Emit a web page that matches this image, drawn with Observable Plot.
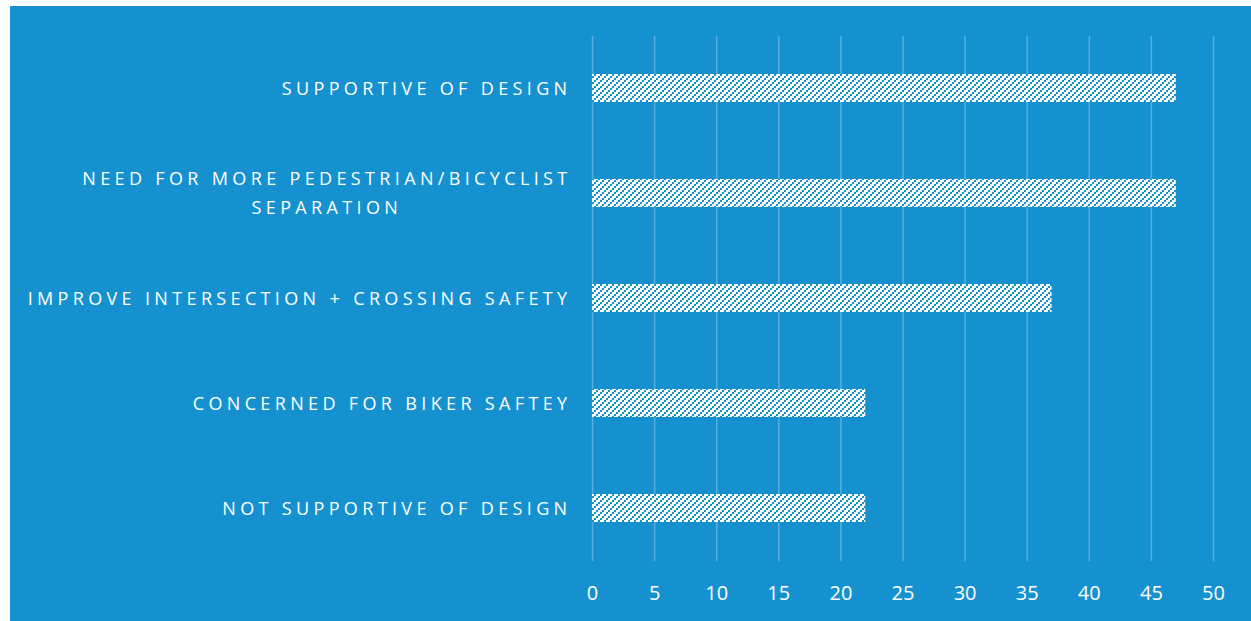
<!DOCTYPE html>
<html>
<head>
<meta charset="utf-8">
<script src="https://cdn.jsdelivr.net/npm/d3@7"></script>
<script src="https://cdn.jsdelivr.net/npm/@observablehq/plot@0.6"></script>
<style>
  html, body { margin: 0; padding: 0; background: #ffffff; }
  #wrap { padding: 6px 0 0 10px; width: 1241px; height: 615px; }
  #wrap svg { display: block; background: #1691cf; }
  g[aria-label="text"] text { letter-spacing: 4.35px; }
</style>
</head>
<body>
<div id="wrap"></div>
<script>
const categories = [
  "SUPPORTIVE OF DESIGN",
  "NEED FOR MORE PEDESTRIAN/BICYCLIST\nSEPARATION",
  "IMPROVE INTERSECTION + CROSSING SAFETY",
  "CONCERNED FOR BIKER SAFTEY",
  "NOT SUPPORTIVE OF DESIGN"
];
const values = [47, 47, 37, 22, 22];
const xTicks = [0, 5, 10, 15, 20, 25, 30, 35, 40, 45, 50];

const data = categories.map((c, i) => ({category: c, value: values[i]}));

const chart = Plot.plot({
  width: 1241,
  height: 615,
  marginLeft: 582,
  marginRight: 38,
  marginTop: 30,
  marginBottom: 60,
  style: {background: "#1691cf", color: "#ffffff", fontFamily: "'Open Sans', sans-serif"},
  x: {domain: [0, 50], ticks: xTicks, label: null},
  y: {domain: categories, paddingInner: 0.73, paddingOuter: 0.365, axis: null, label: null},
  marks: [
    Plot.gridX(xTicks, {stroke: "#ffffff", strokeOpacity: 0.28, strokeWidth: 1.5}),
    Plot.barX(data, {x: "value", y: "category", fill: "url(#hatch)"}),
    Plot.axisX({ticks: xTicks, tickSize: 0, tickPadding: 24, fontSize: 20, fill: "#ffffff", label: null}),
    Plot.text(data, {x: 0, y: "category", text: "category", textAnchor: "end", dx: -21, dy: -3, fontSize: 18, fill: "#ffffff", lineHeight: 1.6})
  ]
});

// hatch pattern: white ground with blue upward diagonal stripes made of small squares
const ns = "http://www.w3.org/2000/svg";
const defs = document.createElementNS(ns, "defs");
const pat = document.createElementNS(ns, "pattern");
pat.setAttribute("id", "hatch");
pat.setAttribute("patternUnits", "userSpaceOnUse");
pat.setAttribute("width", "6");
pat.setAttribute("height", "6");
const bg = document.createElementNS(ns, "rect");
bg.setAttribute("width", "6"); bg.setAttribute("height", "6"); bg.setAttribute("fill", "#ffffff");
pat.appendChild(bg);
[[0, 4], [2, 2], [4, 0]].forEach(([px, py]) => {
  const r = document.createElementNS(ns, "rect");
  r.setAttribute("x", px); r.setAttribute("y", py);
  r.setAttribute("width", "2"); r.setAttribute("height", "2");
  r.setAttribute("fill", "#1691cf");
  r.setAttribute("shape-rendering", "crispEdges");
  pat.appendChild(r);
});
defs.appendChild(pat);
chart.insertBefore(defs, chart.firstChild);

document.getElementById("wrap").appendChild(chart);

// center wrapped lines relative to the longest line, keep block right-aligned
chart.querySelectorAll('g[aria-label="text"] text').forEach(t => {
  const spans = t.querySelectorAll("tspan");
  if (spans.length > 1) {
    let w = 0;
    spans.forEach(s => { w = Math.max(w, s.getComputedTextLength()); });
    t.setAttribute("text-anchor", "middle");
    spans.forEach(s => s.setAttribute("x", String(-w / 2)));
  }
});
</script>
</body>
</html>
